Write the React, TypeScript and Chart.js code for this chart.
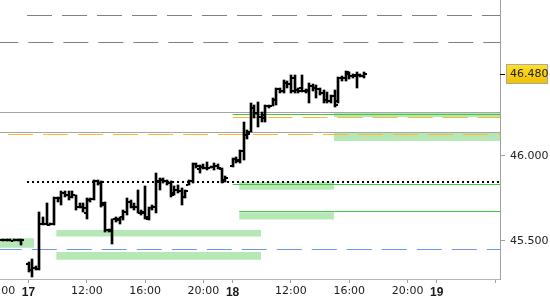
import React, { useEffect, useRef } from 'react';
import { Chart, registerables } from 'chart.js';
Chart.register(...registerables);

// ---- time axis: trading hours counted from 17th 08:00 (sessions 08:00-22:00) ----
const xTickHours = [-2, 0, 4, 8, 12, 14, 18, 22, 26, 28, 32];
const xTickLabels = ['20:00', '17', '12:00', '16:00', '20:00', '18', '12:00', '16:00', '20:00', '19', ''];
const dayLabels = ['17', '18', '19'];
const yTickValues = [45.5, 46.0];
const lastPrice = 46.48;

const X_MIN = -1.955;
const X_MAX = 32.34;
const Y_MIN = 45.2747;
const Y_MAX = 46.9159;

// ---- 15-minute OHLC bars ----
const barHours = [
  -1.75, -1.5, -1.25, -1, -0.75, -0.5,
  0, 0.25, 0.5, 0.75, 1, 1.25, 1.5, 1.75, 2, 2.25, 2.5, 2.75, 3, 3.25, 3.5, 3.75,
  4, 4.25, 4.5, 4.75, 5, 5.25, 5.5, 5.75, 6, 6.25, 6.5, 6.75, 7, 7.25, 7.5, 7.75,
  8, 8.25, 8.5, 8.75, 9, 9.25, 9.5, 9.75, 10, 10.25, 10.5, 10.75, 11, 11.25, 11.5, 11.75,
  12, 12.25, 12.5, 12.75, 13, 13.25, 13.5,
  14, 14.25, 14.5, 14.75, 15, 15.25, 15.5, 15.75, 16, 16.25, 16.5, 16.75, 17, 17.25, 17.5, 17.75,
  18, 18.25, 18.5, 18.75, 19, 19.25, 19.5, 19.75, 20, 20.25, 20.5, 20.75, 21, 21.25, 21.5, 21.75,
  22, 22.25, 22.5, 22.75, 23,
];
const opens = [
  45.505, 45.503, 45.505, 45.5, 45.503, 45.505,
  45.36, 45.33, 45.34, 45.335, 45.6, 45.6, 45.595, 45.6, 45.75, 45.75, 45.78, 45.77, 45.76, 45.77, 45.7, 45.7,
  45.66, 45.74, 45.745, 45.85, 45.84, 45.72, 45.56, 45.56, 45.63, 45.62, 45.64, 45.67, 45.73, 45.7, 45.7, 45.665,
  45.66, 45.63, 45.69, 45.7, 45.85, 45.86, 45.85, 45.84, 45.78, 45.8, 45.79, 45.76, 45.83, 45.85, 45.95, 45.92,
  45.935, 45.93, 45.93, 45.935, 45.94, 45.92, 45.86,
  45.94, 45.98, 45.97, 46.03, 46.12, 46.14, 46.28, 46.25, 46.23, 46.22, 46.29, 46.295, 46.33, 46.39, 46.38, 46.43,
  46.42, 46.46, 46.385, 46.4, 46.38, 46.38, 46.41, 46.4, 46.39, 46.37, 46.33, 46.32, 46.35, 46.32, 46.455, 46.46,
  46.48, 46.47, 46.47, 46.475, 46.47,
];
const highs = [
  45.51, 45.51, 45.51, 45.508, 45.51, 45.51,
  45.375, 45.39, 45.35, 45.67, 45.64, 45.72, 45.605, 45.755, 45.76, 45.79, 45.79, 45.79, 45.79, 45.77, 45.72, 45.72,
  45.75, 45.75, 45.857, 45.86, 45.85, 45.73, 45.57, 45.63, 45.64, 45.64, 45.68, 45.75, 45.74, 45.72, 45.8, 45.68,
  45.82, 45.7, 45.71, 45.9, 45.87, 45.87, 45.86, 45.85, 45.82, 45.83, 45.81, 45.8, 45.857, 45.96, 45.96, 45.945,
  45.95, 45.963, 45.94, 45.957, 45.95, 45.928, 45.88,
  45.986, 45.99, 46.034, 46.198, 46.15, 46.31, 46.3, 46.315, 46.26, 46.298, 46.3, 46.34, 46.398, 46.4, 46.445, 46.44,
  46.475, 46.475, 46.4, 46.475, 46.39, 46.428, 46.42, 46.416, 46.4, 46.386, 46.375, 46.36, 46.386, 46.463, 46.47, 46.5,
  46.49, 46.48, 46.492, 46.48, 46.492,
];
const lows = [
  45.498, 45.5, 45.498, 45.497, 45.5, 45.475,
  45.315, 45.285, 45.325, 45.33, 45.59, 45.59, 45.59, 45.595, 45.73, 45.71, 45.76, 45.74, 45.75, 45.68, 45.69, 45.67,
  45.63, 45.73, 45.74, 45.83, 45.7, 45.55, 45.55, 45.48, 45.61, 45.6, 45.62, 45.65, 45.69, 45.68, 45.66, 45.65,
  45.63, 45.62, 45.68, 45.66, 45.8, 45.84, 45.83, 45.76, 45.77, 45.78, 45.71, 45.75, 45.83, 45.84, 45.93, 45.9,
  45.92, 45.916, 45.925, 45.916, 45.92, 45.84, 45.845,
  45.934, 45.96, 45.957, 45.975, 46.1, 46.14, 46.22, 46.17, 46.2, 46.198, 46.28, 46.29, 46.3, 46.37, 46.369, 46.4,
  46.369, 46.37, 46.37, 46.375, 46.37, 46.31, 46.38, 46.34, 46.36, 46.31, 46.31, 46.31, 46.285, 46.31, 46.44, 46.44,
  46.45, 46.46, 46.398, 46.465, 46.46,
];
const closes = [
  45.503, 45.505, 45.5, 45.503, 45.505, 45.505,
  45.33, 45.34, 45.335, 45.6, 45.6, 45.595, 45.6, 45.75, 45.75, 45.78, 45.77, 45.76, 45.77, 45.7, 45.7, 45.69,
  45.74, 45.745, 45.85, 45.84, 45.71, 45.56, 45.555, 45.63, 45.63, 45.64, 45.67, 45.73, 45.7, 45.7, 45.665, 45.67,
  45.64, 45.69, 45.7, 45.85, 45.86, 45.85, 45.84, 45.77, 45.8, 45.79, 45.76, 45.79, 45.85, 45.95, 45.94, 45.935,
  45.93, 45.93, 45.935, 45.94, 45.93, 45.85, 45.87,
  45.98, 45.975, 46.03, 46.12, 46.13, 46.28, 46.25, 46.23, 46.24, 46.29, 46.295, 46.33, 46.39, 46.38, 46.43, 46.42,
  46.38, 46.385, 46.38, 46.38, 46.385, 46.41, 46.4, 46.39, 46.37, 46.33, 46.32, 46.35, 46.3, 46.455, 46.46, 46.49,
  46.47, 46.475, 46.475, 46.47, 46.48,
];

// ---- horizontal levels ----
const grayDashLevels = [46.822, 46.667];
const grayDashFrom = [-0.1, -2];
const graySolidLevels = [46.255, 46.138];
const orangeDashLevels = [46.226, 46.126];
const orangeDashFrom = [14, -1.4];
const greenLineLevels = [46.244, 45.829, 45.669];
const greenLineFrom = [14, 14, 14.45];
const dottedLevel = 45.847;
const dottedFrom = -0.1;
const blueDashLevel = 45.449;

// ---- zones ----
const zoneTops = [46.253, 46.138, 45.845, 45.667, 45.563, 45.434, 45.514];
const zoneBottoms = [46.226, 46.086, 45.8, 45.624, 45.524, 45.388, 45.459];
const zoneFrom = [20.95, 20.95, 14.45, 14.45, 1.9, 1.9, -2];
const zoneTo = [33, 33, 20.95, 20.95, 15.95, 15.95, 0.38];

function makeTickImage(side: 'left' | 'right') {
  const c = document.createElement('canvas');
  c.width = 6;
  c.height = 2;
  const g = c.getContext('2d')!;
  g.fillStyle = '#000';
  g.fillRect(side === 'left' ? 0 : 4, 0, 2, 2);
  return c;
}

const FONT = 'DejaVu Sans';

// snap library-computed element positions to whole pixels for crisp marks
const snapPlugin = {
  id: 'pixelSnap',
  afterDatasetsUpdate(chart: any) {
    chart.data.datasets.forEach((ds: any, i: number) => {
      const meta = chart.getDatasetMeta(i);
      if (meta.type === 'bar') {
        meta.data.forEach((el: any) => {
          el.x = Math.round(el.x);
          const top = Math.round(Math.min(el.y, el.base));
          let bottom = Math.round(Math.max(el.y, el.base));
          if (bottom - top < 2) bottom = top + 2;
          el.y = top;
          el.base = bottom;
        });
      } else if (meta.type === 'scatter') {
        meta.data.forEach((el: any) => {
          el.x = Math.round(el.x);
          el.y = Math.round(el.y);
        });
      } else if (meta.type === 'line' && !ds.fill) {
        const w = ds.borderWidth || 1;
        meta.data.forEach((el: any) => {
          el.y = w % 2 === 1 ? Math.floor(el.y) + 0.5 : Math.round(el.y);
        });
      }
    });
  },
};

const lastPricePlugin = {
  id: 'lastPriceTag',
  afterDraw(chart: any) {
    const { ctx, chartArea } = chart;
    const y = chart.scales.y;
    ctx.save();
    // right axis line
    ctx.strokeStyle = '#a0a0a0';
    ctx.lineWidth = 1;
    ctx.beginPath();
    ctx.moveTo(chartArea.right + 0.5, chartArea.top);
    ctx.lineTo(chartArea.right + 0.5, chartArea.bottom + 1);
    ctx.stroke();

    const py = Math.round(y.getPixelForValue(lastPrice));
    ctx.strokeStyle = '#000';
    ctx.beginPath();
    ctx.moveTo(chartArea.right, py + 0.5);
    ctx.lineTo(chartArea.right + 5, py + 0.5);
    ctx.stroke();
    const bx = 506, bw = 42, bh = 20;
    const by = py - 10;
    const grad = ctx.createLinearGradient(0, by, 0, by + bh);
    grad.addColorStop(0, '#ffe02a');
    grad.addColorStop(1, '#f0c000');
    ctx.fillStyle = grad;
    ctx.fillRect(bx, by, bw, bh);
    ctx.strokeStyle = '#a8a8a8';
    ctx.strokeRect(bx + 0.5, by + 0.5, bw - 1, bh - 1);
    ctx.fillStyle = '#222';
    ctx.font = `11px "${FONT}"`;
    ctx.textAlign = 'left';
    ctx.textBaseline = 'middle';
    ctx.fillText(lastPrice.toFixed(3), 510, py + 0.5);
    ctx.restore();
  },
};

export default function App() {
  const ref = useRef<HTMLCanvasElement | null>(null);

  useEffect(() => {
    document.body.style.margin = '0';
    const canvas = ref.current;
    if (!canvas) return;

    const openImg = makeTickImage('left');
    const closeImg = makeTickImage('right');

    const lineDs = (y: number, from: number, color: string, width: number, dash: number[], dashOffset: number) => ({
      type: 'line',
      data: [{ x: from, y }, { x: 33, y }],
      borderColor: color,
      borderWidth: width,
      borderDash: dash,
      borderDashOffset: dashOffset,
      pointRadius: 0,
      pointHoverRadius: 0,
      fill: false,
      order: 2,
    });

    const datasets: any[] = [];

    zoneTops.forEach((top, i) => {
      datasets.push({
        type: 'line',
        data: [{ x: zoneFrom[i], y: top }, { x: zoneTo[i], y: top }],
        borderColor: 'rgba(0,0,0,0)',
        borderWidth: 0,
        pointRadius: 0,
        pointHoverRadius: 0,
        fill: { value: zoneBottoms[i] },
        backgroundColor: '#b5e8b5',
        order: 3,
      });
    });

    grayDashLevels.forEach((v, i) => datasets.push(lineDs(v, grayDashFrom[i], '#808080', 1, [25, 10], i === 1 ? 6 : 0)));
    graySolidLevels.forEach((v) => datasets.push(lineDs(v, -2, '#a6a6a6', 1, [], 0)));
    orangeDashLevels.forEach((v, i) => datasets.push(lineDs(v, orangeDashFrom[i], '#ffb833', 1, [25, 10], 0)));
    greenLineLevels.forEach((v, i) => datasets.push(lineDs(v, greenLineFrom[i], '#44c844', 1, [], 0)));
    datasets.push(lineDs(dottedLevel, dottedFrom, '#000000', 2, [2, 3], 0));
    datasets.push(lineDs(blueDashLevel, -2, '#6a97ea', 1, [25, 10], 2.6));

    datasets.push({
      type: 'bar',
      data: barHours.map((h, i) => ({ x: h, y: [lows[i], highs[i]] })),
      backgroundColor: '#000',
      borderWidth: 0,
      barThickness: 2,
      grouped: false,
      order: 1,
    });
    datasets.push({
      type: 'scatter',
      data: barHours.map((h, i) => ({ x: h, y: opens[i] })),
      pointStyle: openImg,
      pointRadius: 1,
      pointHoverRadius: 1,
      order: 0,
    });
    datasets.push({
      type: 'scatter',
      data: barHours.map((h, i) => ({ x: h, y: closes[i] })),
      pointStyle: closeImg,
      pointRadius: 1,
      pointHoverRadius: 1,
      order: 0,
    });

    const chart = new Chart(canvas, {
      type: 'bar',
      data: { datasets },
      plugins: [snapPlugin, lastPricePlugin],
      options: {
        animation: false,
        responsive: false,
        maintainAspectRatio: false,
        events: [],
        layout: { padding: 0, autoPadding: false },
        plugins: { legend: { display: false }, tooltip: { enabled: false } },
        scales: {
          x: {
            type: 'linear',
            min: X_MIN,
            max: X_MAX,
            bounds: 'data',
            offset: false,
            position: 'bottom',
            grid: { drawOnChartArea: false, drawTicks: true, tickLength: 4, color: '#a0a0a0', offset: false },
            border: { display: true, color: '#b4b4b4', width: 1 },
            afterBuildTicks: (s: any) => {
              s.ticks = xTickHours.map((v) => ({ value: v }));
            },
            afterFit: (s: any) => {
              s.height = 21;
              s.paddingLeft = 0;
              s.paddingRight = 0;
            },
            ticks: {
              autoSkip: false,
              maxRotation: 0,
              minRotation: 0,
              padding: 2,
              color: '#1a1a1a',
              font: (c: any) => {
                const bold = dayLabels.includes(xTickLabels[c.index]);
                return { family: bold ? 'Liberation Sans' : FONT, size: bold ? 12 : 11, weight: bold ? 'bold' : 'normal' };
              },
              callback: (_v: any, i: number) => xTickLabels[i],
            },
          } as any,
          y: {
            type: 'linear',
            position: 'right',
            min: Y_MIN,
            max: Y_MAX,
            bounds: 'data',
            grid: { drawOnChartArea: false, drawTicks: true, tickLength: 5, color: '#a0a0a0' },
            border: { display: true, color: '#a0a0a0', width: 1 },
            afterBuildTicks: (s: any) => {
              s.ticks = yTickValues.map((v) => ({ value: v }));
            },
            afterFit: (s: any) => {
              s.width = 50;
              s.paddingTop = 0;
              s.paddingBottom = 0;
            },
            ticks: {
              padding: 5,
              color: '#222',
              font: { family: FONT, size: 11 },
              callback: (v: any) => Number(v).toFixed(3),
            },
          } as any,
        },
      } as any,
    });

    return () => chart.destroy();
  }, []);

  return <canvas ref={ref} width={550} height={300} style={{ display: 'block' }} />;
}
